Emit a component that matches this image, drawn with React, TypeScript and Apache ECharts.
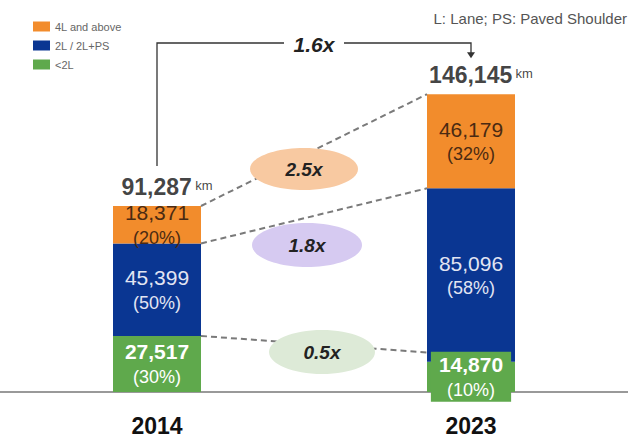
import React, { useEffect, useRef } from "react";
import * as echarts from "echarts";

const years = ["2014", "2023"];
const lt2L = [27517, 14870];
const twoL = [45399, 85096];
const fourL = [18371, 46179];
const lt2LPct = [30, 10];
const twoLPct = [50, 58];
const fourLPct = [20, 32];
const totals = [91287, 146145];
const growth = ["2.5x", "1.8x", "0.5x"];
const totalGrowth = "1.6x";
const legendNames = ["4L and above", "2L / 2L+PS", "<2L"];
const note = "L: Lane; PS: Paved Shoulder";

const C_ORANGE = "#F28C2C";
const C_BLUE = "#0A3692";
const C_GREEN = "#5FA94C";
const FONT = "Liberation Sans, Arial, sans-serif";

const fmt = (v: number) => v.toLocaleString("en-US");

export default function App() {
  const ref = useRef<HTMLDivElement>(null);

  useEffect(() => {
    document.body.style.margin = "0";
    const chart = echarts.init(ref.current!, null, { renderer: "svg" });
    const mkLabel = (pcts: number[], color: string, bold: boolean) => ({
      show: true,
      position: "inside",
      formatter: (p: any) => `{v|${fmt(p.value)}}\n{p|(${pcts[p.dataIndex]}%)}`,
      rich: {
        v: { fontFamily: FONT, fontSize: 21, fontWeight: bold ? "bold" : "normal", color, lineHeight: 26 },
        p: { fontFamily: FONT, fontSize: 18, color, lineHeight: 24 },
      },
    });
    chart.setOption({
      animation: false,
      textStyle: { fontFamily: FONT },
      grid: { left: 0, right: 0, top: 66, bottom: 51, containLabel: false, outerBoundsMode: "none" },
      legend: {
        data: legendNames,
        orient: "vertical",
        left: 28,
        top: 16,
        icon: "rect",
        itemWidth: 17,
        itemHeight: 10,
        itemGap: 8,
        textStyle: { fontSize: 11, color: "#666", fontFamily: FONT },
        selectedMode: false,
      },
      xAxis: {
        type: "category",
        data: years,
        axisLine: { lineStyle: { color: "#777", width: 1.5 } },
        axisTick: { show: false },
        axisLabel: { fontSize: 23, fontWeight: "bold", color: "#111", margin: 22 },
      },
      yAxis: { type: "value", max: 160000, show: false, splitLine: { show: false } },
      series: [
        {
          name: "<2L",
          type: "bar",
          stack: "a",
          barWidth: 88,
          data: lt2L.map((v, i) =>
            i === 1
              ? { value: v, label: { backgroundColor: C_GREEN, padding: [0, 8, 0, 8] } }
              : v
          ),
          itemStyle: { color: C_GREEN },
          label: mkLabel(lt2LPct, "#fff", true),
        },
        {
          name: "2L / 2L+PS",
          type: "bar",
          stack: "a",
          barWidth: 88,
          data: twoL,
          itemStyle: { color: C_BLUE },
          label: mkLabel(twoLPct, "#E2E5F2", false),
        },
        {
          name: "4L and above",
          type: "bar",
          stack: "a",
          barWidth: 88,
          data: fourL,
          itemStyle: { color: C_ORANGE },
          label: mkLabel(fourLPct, "#4A2A12", false),
        },
        {
          name: "total",
          type: "scatter",
          data: totals,
          symbolSize: 0,
          silent: true,
          label: {
            show: true,
            position: "top",
            distance: 5,
            offset: [10, 0],
            formatter: (p: any) => `{n|${fmt(p.value)}} {k|km}`,
            rich: {
              n: { fontFamily: FONT, fontSize: 23, fontWeight: "bold", color: "#111", lineHeight: 28 },
              k: { fontFamily: FONT, fontSize: 13, color: "#111", padding: [0, 0, 4, 0] },
            },
          },
        },
      ],
    });

    const px = (i: number, v: number) =>
      chart.convertToPixel({ xAxisIndex: 0, yAxisIndex: 0 }, [i, v]) as number[];
    const half = 44;
    const tops0 = [totals[0], lt2L[0] + twoL[0], lt2L[0]];
    const tops1 = [totals[1], lt2L[1] + twoL[1], lt2L[1] + 4500];
    const dash: any[] = [];
    for (let k = 0; k < 3; k++) {
      const a = px(0, tops0[k]);
      const b = px(1, tops1[k]);
      dash.push({
        type: "line",
        z: 10,
        shape: { x1: a[0] + half, y1: a[1], x2: b[0] - half, y2: b[1] },
        style: { stroke: "#7a7a7a", lineWidth: 2, lineDash: [6, 4] },
      });
    }
    const c0 = px(0, totals[0]);
    const c1 = px(1, totals[1]);
    const midX = (c0[0] + c1[0]) / 2;
    const ell = [
      { cx: midX - 10, cy: 169, rx: 54, ry: 21, color: "#F8C9A1" },
      { cx: midX - 7, cy: 245, rx: 55, ry: 22, color: "#D6CAF1" },
      { cx: midX + 8, cy: 352, rx: 53, ry: 22, color: "#DDEAD7" },
    ];
    const ellEls: any[] = [];
    ell.forEach((e, k) => {
      ellEls.push({
        type: "ellipse",
        z: 20,
        shape: { cx: e.cx, cy: e.cy, rx: e.rx, ry: e.ry },
        style: { fill: e.color },
      });
      ellEls.push({
        type: "text",
        z: 21,
        style: {
          text: growth[k],
          x: e.cx,
          y: e.cy,
          textAlign: "center",
          textVerticalAlign: "middle",
          align: "center",
          verticalAlign: "middle",
          font: `italic bold 19px ${FONT}`,
          fill: "#222",
        },
      });
    });
    const topY = 43;
    const bracket: any[] = [
      {
        type: "polyline",
        z: 10,
        shape: {
          points: [
            [c0[0], c0[1] - 40],
            [c0[0], topY],
            [c1[0], topY],
            [c1[0], c1[1] - 40],
          ],
        },
        style: { stroke: "#333", lineWidth: 1.3, fill: null },
      },
      {
        type: "polygon",
        z: 11,
        shape: { points: [[c1[0] - 4, c1[1] - 42], [c1[0] + 4, c1[1] - 42], [c1[0], c1[1] - 36]] },
        style: { fill: "#333" },
      },
      {
        type: "rect",
        z: 12,
        shape: { x: midX - 30, y: topY - 10, width: 60, height: 20 },
        style: { fill: "#fff" },
      },
      {
        type: "text",
        z: 13,
        style: {
          text: totalGrowth,
          x: midX,
          y: topY + 1,
          textAlign: "center",
          textVerticalAlign: "middle",
          align: "center",
          verticalAlign: "middle",
          font: `italic bold 21px ${FONT}`,
          fill: "#222",
        },
      },
      {
        type: "text",
        z: 13,
        style: {
          text: note,
          x: 627,
          y: 18,
          textAlign: "right",
          textVerticalAlign: "middle",
          align: "right",
          verticalAlign: "middle",
          font: `15px ${FONT}`,
          fill: "#555",
        },
      },
    ];
    chart.setOption({ graphic: { elements: [...dash, ...ellEls, ...bracket] } });

    return () => chart.dispose();
  }, []);

  return (
    <div
      ref={ref}
      style={{ position: "fixed", left: 0, top: 0, width: 628, height: 443, background: "#fff" }}
    />
  );
}
